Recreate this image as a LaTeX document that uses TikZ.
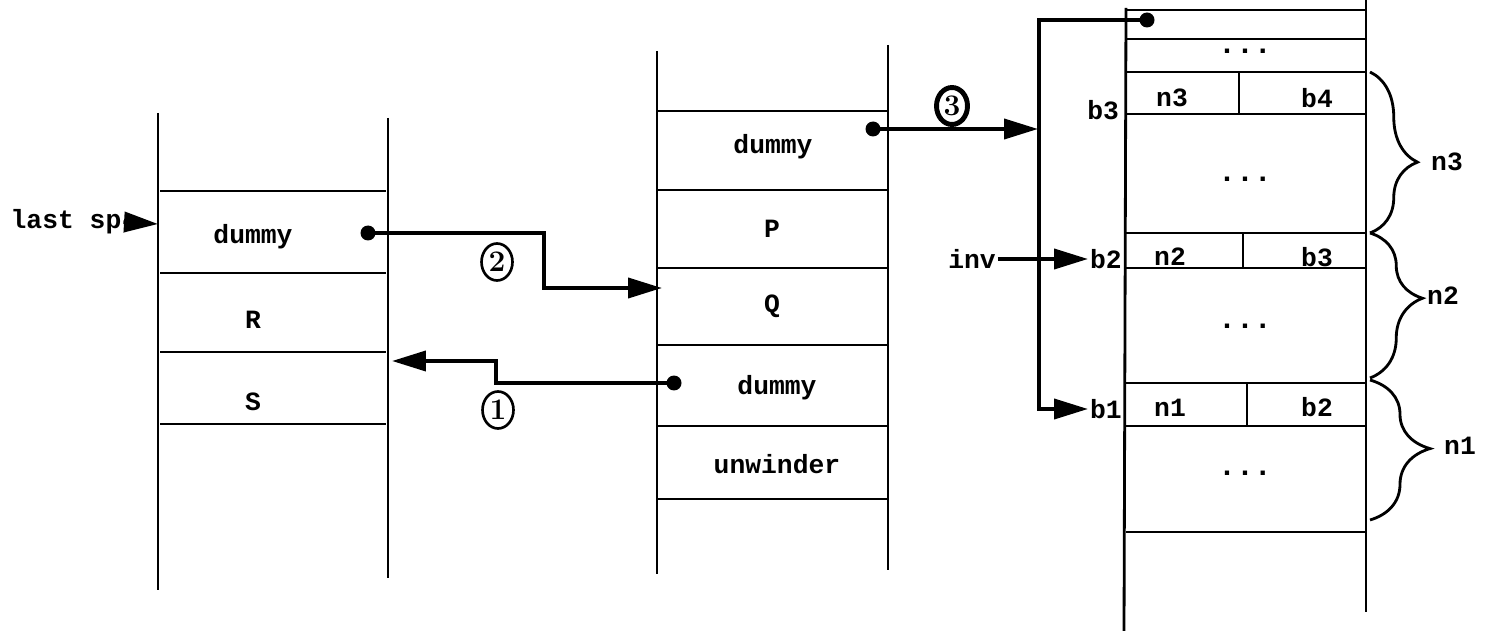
\documentclass[tikz,border=0pt]{standalone}
\usepackage{fontspec}
\setmonofont{Liberation Mono}
\usetikzlibrary{arrows.meta,shapes.geometric,decorations.pathreplacing}
\tikzset{t/.style={font=\ttfamily\bfseries\fontsize{15}{18}\selectfont,inner sep=1pt},
            dd/.style={font=\ttfamily\bfseries\fontsize{17}{18}\selectfont,inner sep=1pt},
            c/.style={ellipse,draw,line width=1.5pt,inner sep=0pt,minimum width=0.62cm,minimum height=0.74cm,font=\bfseries\fontsize{17}{18}\selectfont},
            w/.style={line width=1.6pt},
            p/.style={line width=2.2pt,-{Triangle[length=0.68cm,width=0.4cm]}},
            br/.style={line width=1.6pt,decorate}}

\begin{document}
\begin{tikzpicture}[x=0.02cm,y=-0.02cm]
\useasboundingbox (0,0) rectangle (1494,631);
\draw[w] (158,113) -- (158,590);
\draw[w] (388,118) -- (388,578);
\foreach \y in {191,273,352,424} \draw[w] (160,\y) -- (386,\y);
\draw[w] (657,51) -- (657,574);
\draw[w] (888,45) -- (888,570);
\foreach \y in {111,190,268,345,426,499} \draw[w] (657,\y) -- (888,\y);
\draw[w] (1126,8) -- (1124,631);
\draw[w] (1366,0) -- (1366,612);
\foreach \y in {10,39,72,114,233,268,383,426,532} \draw[w] (1126,\y) -- (1366,\y);
\draw[w] (1239,72) -- (1239,114);
\draw[w] (1243,233) -- (1243,268);
\draw[w] (1247,383) -- (1247,426);
\node[t] at (253,237)(l1){dummy};
\node[t] at (253,320)(l2){R};
\node[t] at (253,402)(l3){S};
\node[t] at (66,222)(ls){last sp};
\node[t] at (773,147)(m1){dummy};
\node[t] at (772,229)(m2){P};
\node[t] at (772,306)(m3){Q};
\node[t] at (777,388)(m4){dummy};
\node[t] at (777,464)(m5){unwinder};
\node[dd] at (1245,51)(r0){...};
\node[t] at (1172,98)(r1){n3};
\node[t] at (1317,98)(r2){b4};
\node[dd] at (1245,179)(r3){...};
\node[t] at (1170,257)(r4){n2};
\node[t] at (1317,257)(r5){b3};
\node[dd] at (1245,326)(r6){...};
\node[t] at (1170,408)(r7){n1};
\node[t] at (1317,407)(r8){b2};
\node[dd] at (1245,473)(r9){...};
\node[t,anchor=east] at (1121,110)(b3){b3};
\node[t,anchor=west] at (1088,259)(b2){b2};
\node[t,anchor=west] at (1088,409)(b1){b1};
\node[t] at (972,259)(inv){inv};
\node[c] at (497,262)(c2){2};
\node[c] at (498,410)(c1){1};
\node[c,line width=2.8pt] at (952,106)(c3){3};
\node[t] at (1447,162)(s3){n3};
\node[t] at (1443,296)(s2){n2};
\node[t] at (1460,446)(s1){n1};
\coordinate (dL) at (368,233);
\coordinate (dM) at (674,383);
\coordinate (dD) at (873,129);
\coordinate (dT) at (1147,20);
\coordinate (tL) at (158,224);
\coordinate (tQ) at (662,288);
\coordinate (tR) at (392,361);
\coordinate (tB) at (1038,129);
\foreach \d in {dL,dM,dD,dT} \fill (\d) circle (0.15cm);
\draw[p] (ls.east) -- (tL);
\draw[p] (dL) -- ++(176,0) |- (tQ);
\draw[p] (dM) -- ++(-178,0) |- (tR);
\draw[p] (dD) -- (tB);
\draw[p] (dT) -- ++(-108,0) |- (b1.west);
\draw[p] (inv.east) -- (b2.west);
\draw[br,decoration={brace,amplitude=0.95cm,aspect=0.56}] (1370,72) -- (1370,233);
\draw[br,decoration={brace,amplitude=1.05cm,aspect=0.45}] (1370,233) -- (1370,378);
\draw[br,decoration={brace,amplitude=1.2cm,aspect=0.49}] (1370,380) -- (1370,520);
\end{tikzpicture}
\end{document}
